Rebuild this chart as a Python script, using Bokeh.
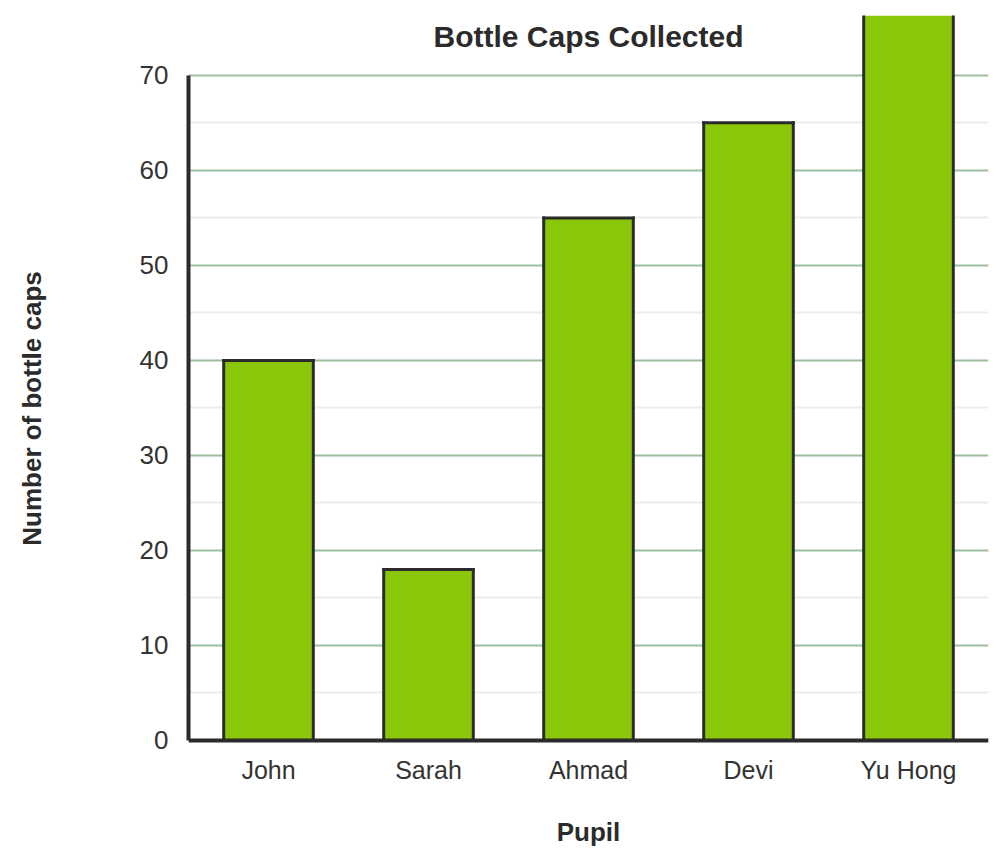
from bokeh.plotting import figure
from bokeh.models import (Range1d, FactorRange, FixedTicker, Label,
                          ColumnDataSource, CategoricalAxis)
from bokeh.transform import dodge
from bokeh.embed import file_html
from bokeh.resources import INLINE

pupils = ["John", "Sarah", "Ahmad", "Devi", "Yu Hong"]
caps = [40, 18, 55, 65, 80]
y_ticks = [0, 10, 20, 30, 40, 50, 60, 70]
y_minor_ticks = [5, 15, 25, 35, 45, 55, 65]
title_text = "Bottle Caps Collected"
x_label = "Pupil"
y_label = "Number of bottle caps"

FONT = "Liberation Sans"
DARK = "#2b2b2b"
BAR_W = 0.56

src = ColumnDataSource(dict(pupil=pupils, caps=caps, base=[0] * len(pupils)))

# frame extends a little below the value axis so that the y-axis title is
# centred on the 0..70 extent, as in the reference
p = figure(width=1000, height=858, x_range=FactorRange(*pupils),
           y_range=Range1d(-6.42, 76.3), output_backend="svg",
           toolbar_location=None, tools="")
p.min_border_left = 188
p.min_border_right = 12
p.min_border_top = 15
p.min_border_bottom = 57
p.outline_line_color = None
p.background_fill_color = "white"
p.border_fill_color = "white"

ticker = FixedTicker(ticks=y_ticks, minor_ticks=y_minor_ticks)

# bar fills
p.vbar(x="pupil", top="caps", width=BAR_W, source=src,
       fill_color="#8ac709", line_color=None)
# bar outlines (left, right, top edges)
left = dodge("pupil", -BAR_W / 2, range=p.x_range)
right = dodge("pupil", BAR_W / 2, range=p.x_range)
p.segment(x0=left, y0="base", x1=left, y1="caps", source=src,
          line_color=DARK, line_width=3, line_cap="square")
p.segment(x0=right, y0="base", x1=right, y1="caps", source=src,
          line_color=DARK, line_width=3, line_cap="square")
p.segment(x0=left, y0="caps", x1=right, y1="caps", source=src,
          line_color=DARK, line_width=3, line_cap="square")

# grids
p.xgrid.grid_line_color = None
p.ygrid.ticker = ticker
p.ygrid.grid_line_color = "#9cbf9c"
p.ygrid.grid_line_width = 2
p.ygrid.minor_grid_line_color = "#e8eee8"
p.ygrid.minor_grid_line_width = 2

# y axis
p.yaxis.ticker = ticker
p.yaxis.bounds = (y_ticks[0], y_ticks[-1])
p.yaxis.axis_line_color = DARK
p.yaxis.axis_line_width = 4
p.yaxis.major_tick_line_color = None
p.yaxis.minor_tick_line_color = None
p.yaxis.major_label_text_font = FONT
p.yaxis.major_label_text_font_size = "26px"
p.yaxis.major_label_text_color = "#333333"
p.yaxis.major_label_standoff = 14
p.yaxis.axis_label = y_label
p.yaxis.axis_label_text_font = FONT
p.yaxis.axis_label_text_font_style = "bold"
p.yaxis.axis_label_text_font_size = "26px"
p.yaxis.axis_label_text_color = DARK
p.yaxis.axis_label_standoff = 90

# x axis, pinned at value 0
p.xaxis.fixed_location = 0
p.xaxis.axis_line_color = DARK
p.xaxis.axis_line_width = 4
p.xaxis.major_tick_line_color = None
p.xaxis.minor_tick_line_color = None
p.xaxis.major_label_text_font = FONT
p.xaxis.major_label_text_font_size = "25px"
p.xaxis.major_label_text_color = "#333333"
p.xaxis.major_label_standoff = 10

# second bottom axis carrying only the x-axis title
title_axis = CategoricalAxis(axis_label=x_label)
title_axis.axis_line_color = None
title_axis.major_tick_line_color = None
title_axis.minor_tick_line_color = None
title_axis.major_tick_out = 0
title_axis.major_label_standoff = 0
title_axis.major_label_text_font_size = "0px"
title_axis.axis_label_text_font = FONT
title_axis.axis_label_text_font_style = "bold"
title_axis.axis_label_text_font_size = "26px"
title_axis.axis_label_text_color = DARK
title_axis.axis_label_standoff = 15
p.add_layout(title_axis, "below")

# title drawn inside the plot area, centered over the frame
p.add_layout(Label(x=len(pupils) / 2, y=74.1, text=title_text,
                   text_font=FONT, text_font_style="bold",
                   text_font_size="30px", text_color=DARK,
                   text_align="center", text_baseline="middle"))

open("out.html", "w").write(file_html(p, INLINE))
